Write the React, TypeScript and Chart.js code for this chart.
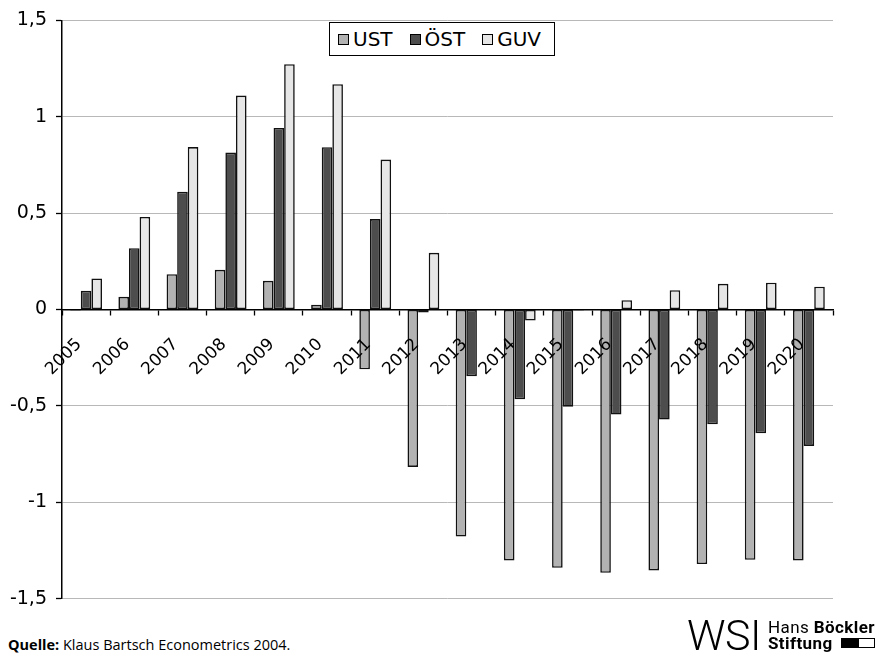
import React, { useEffect, useRef } from "react";
import { Chart, registerables } from "chart.js";

Chart.register(...registerables);

// Years on the category axis
const years = [
  "2005", "2006", "2007", "2008", "2009", "2010", "2011", "2012",
  "2013", "2014", "2015", "2016", "2017", "2018", "2019", "2020",
];

// Series values per year
const ust = [
  -0.005, 0.066, 0.183, 0.206, 0.149, 0.024, -0.31, -0.817,
  -1.178, -1.302, -1.34, -1.366, -1.354, -1.321, -1.299, -1.302,
];
const oest = [
  0.097, 0.318, 0.611, 0.814, 0.942, 0.842, 0.469, -0.016,
  -0.346, -0.466, -0.504, -0.545, -0.571, -0.596, -0.642, -0.708,
];
const guv = [
  0.161, 0.48, 0.843, 1.11, 1.273, 1.169, 0.778, 0.294,
  -0.003, -0.057, -0.005, 0.048, 0.1, 0.133, 0.139, 0.118,
];

const seriesNames = ["UST", "ÖST", "GUV"];
const seriesColors = ["#b2b2b2", "#4d4d4d", "#e6e6e6"];

// Value axis range and step
const yMin = -1.5;
const yMax = 1.5;
const yStep = 0.5;

const labelFont = "'DejaVu Sans', Verdana, sans-serif";

export default function App() {
  const canvasRef = useRef<HTMLCanvasElement | null>(null);

  useEffect(() => {
    if (!canvasRef.current) return;
    const seriesData = [ust, oest, guv];
    const chart = new Chart(canvasRef.current, {
      type: "bar",
      data: {
        labels: years,
        datasets: seriesNames.map((name, i) => ({
          label: name,
          data: seriesData[i],
          backgroundColor: seriesColors[i],
          borderColor: "#111",
          borderWidth: 1.6,
          borderSkipped: false,
          categoryPercentage: 0.66,
          barPercentage: 1.0,
        })),
      },
      options: {
        responsive: false,
        animation: false,
        devicePixelRatio: 1,
        layout: { padding: { top: 19, bottom: 12, left: 0, right: 47 } },
        plugins: {
          legend: { display: false },
          tooltip: { enabled: false },
        },
        scales: {
          x: {
            position: { y: 0 } as any,
            offset: true,
            grid: {
              display: true,
              drawOnChartArea: false,
              drawTicks: true,
              tickLength: 5,
              tickColor: "#000",
              tickWidth: 1.3,
              offset: true,
            },
            border: { display: true, color: "#000", width: 1.5 },
            ticks: {
              autoSkip: false,
              minRotation: 45,
              maxRotation: 45,
              padding: 20,
              labelOffset: -7,
              color: "#000",
              z: 1,
              font: { family: labelFont, size: 17 },
            },
          },
          y: {
            min: yMin,
            max: yMax,
            afterFit: (scale: any) => {
              scale.width = 62;
            },
            grid: {
              color: (ctx: any) =>
                ctx.tick && ctx.tick.value === 0 ? "rgba(0,0,0,0)" : "#b8b8b8",
              lineWidth: 1,
              drawTicks: true,
              tickLength: 6,
              tickColor: "#000",
              tickWidth: 1.3,
            },
            border: { display: true, color: "#000", width: 1.5 },
            ticks: {
              stepSize: yStep,
              padding: 9,
              color: "#000",
              font: { family: labelFont, size: 19 },
              callback: (v: any) => String(v).replace(".", ","),
            },
          },
        },
      },
    });
    return () => chart.destroy();
  }, []);

  return (
    <div
      style={{
        position: "fixed",
        left: 0,
        top: 0,
        width: 880,
        height: 658,
        background: "#fff",
        overflow: "hidden",
      }}
    >
      <canvas
        ref={canvasRef}
        width={880}
        height={619}
        style={{ position: "absolute", left: 0, top: 0, width: 880, height: 619 }}
      />

      {/* Legend box inside the plot */}
      <div
        style={{
          position: "absolute",
          left: 329,
          top: 22,
          width: 226,
          height: 34,
          boxSizing: "border-box",
          border: "1.5px solid #000",
          background: "#fff",
          display: "flex",
          alignItems: "center",
          paddingLeft: 8,
          fontFamily: labelFont,
          fontSize: 20,
          color: "#000",
          whiteSpace: "nowrap",
        }}
      >
        {seriesNames.map((name, i) => (
          <div
            key={name}
            style={{ display: "flex", alignItems: "center", marginRight: 17 }}
          >
            <span
              style={{
                display: "inline-block",
                width: 11,
                height: 11,
                boxSizing: "border-box",
                border: "1px solid #000",
                background: seriesColors[i],
                marginRight: 4,
              }}
            />
            <span>{name}</span>
          </div>
        ))}
      </div>

      {/* Source line */}
      <div
        style={{
          position: "absolute",
          left: 8,
          top: 635,
          fontFamily: "'Open Sans', sans-serif",
          fontSize: 14.5,
          color: "#000",
          whiteSpace: "nowrap",
        }}
      >
        <b>Quelle:</b> Klaus Bartsch Econometrics 2004.
      </div>

      {/* Publisher marks */}
      <div
        style={{
          position: "absolute",
          left: 687,
          top: 611,
          fontFamily: "Roboto, 'Liberation Sans', sans-serif",
          fontWeight: 300,
          fontSize: 43,
          letterSpacing: -0.5,
          color: "#000",
          lineHeight: "48px",
        }}
      >
        WSI
      </div>
      <div
        style={{
          position: "absolute",
          left: 768,
          top: 619,
          fontFamily: "Roboto, 'Liberation Sans', sans-serif",
          fontSize: 17,
          lineHeight: "16px",
          letterSpacing: 0.4,
          color: "#000",
          whiteSpace: "nowrap",
        }}
      >
        <div>
          Hans <b>Böckler</b>
        </div>
        <div style={{ display: "flex", alignItems: "center" }}>
          <b>Stiftung</b>
          <span
            style={{
              display: "inline-block",
              width: 17,
              height: 10,
              background: "#000",
              marginLeft: 8,
            }}
          />
          <span
            style={{
              display: "inline-block",
              width: 17,
              height: 10,
              boxSizing: "border-box",
              border: "1.5px solid #000",
            }}
          />
        </div>
      </div>
    </div>
  );
}
